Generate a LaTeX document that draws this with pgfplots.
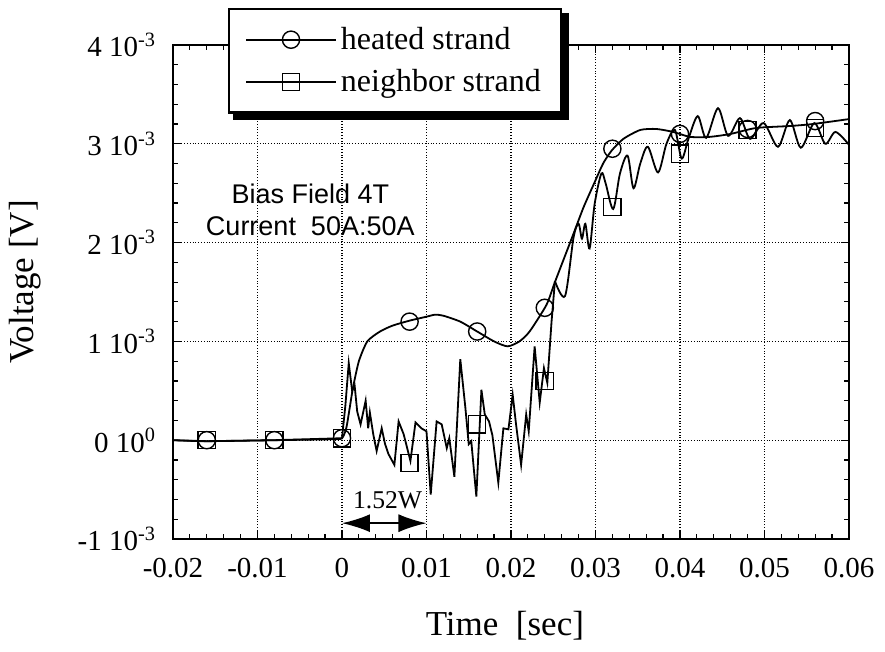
\documentclass[border=0pt]{standalone}
\usepackage{fontspec}
\setmainfont{Liberation Serif}
\newfontfamily\sansf{Liberation Sans}
\usepackage{pgfplots}
\pgfplotsset{compat=1.18}
\usetikzlibrary{arrows.meta}
\begin{document}
\begin{tikzpicture}
\useasboundingbox (-86.5pt,-56.5pt) rectangle (356pt,269.5pt);
\begin{axis}[
  scale only axis, width=338pt, height=247pt,
  at={(0,0)}, anchor=south west,
  xmin=-0.02, xmax=0.06, ymin=-0.001, ymax=0.004,
  scaled x ticks=false, scaled y ticks=false,
  xtick={-0.02,-0.01,0,0.01,0.02,0.03,0.04,0.05,0.06},
  xticklabels={-0.02,-0.01,0,0.01,0.02,0.03,0.04,0.05,0.06},
  ytick={-0.001,0,0.001,0.002,0.003,0.004},
  yticklabels={-1 10\textsuperscript{-3},0 10\textsuperscript{0},1 10\textsuperscript{-3},2 10\textsuperscript{-3},3 10\textsuperscript{-3},4 10\textsuperscript{-3}},
  minor x tick num=4, minor y tick num=4,
  tick align=inside, major tick length=4pt, minor tick length=2.5pt,
  every tick/.style={black, line width=0.6pt},
  grid=major, major grid style={black, densely dotted, line width=0.6pt},
  axis line style={line width=1pt},
  tick label style={font=\fontsize{14.5}{17}\selectfont},
  yticklabel style={xshift=-5pt},
  xticklabel style={yshift=-6pt},
  label style={font=\fontsize{17.5}{20}\selectfont},
  xlabel={Time~~[sec]}, ylabel={Voltage [V]},
  xlabel style={at={(axis description cs:0.491,-0.196)}, anchor=base},
  ylabel style={at={(axis description cs:-0.219,0.52)}, anchor=center},
  legend style={name=leg, at={(0.0814,1.0749)}, anchor=north west, draw=black, line width=1.1pt,
    fill=white, inner xsep=8pt, inner ysep=7pt, row sep=4.5pt,
    font=\fontsize{16}{19}\selectfont},
  legend cell align=left,
  legend image code/.code={\draw[#1,mark=none] (0pt,0pt) -- (45pt,0pt);
    \draw[#1,only marks] plot coordinates {(22.5pt,0pt)};},
]
\addlegendimage{black, line width=0.9pt, mark=o, mark size=4.3pt, mark options={fill=none, line width=0.7pt}}
\addlegendentry{heated strand}
\addlegendimage{black, line width=0.9pt, mark=square, mark size=4.3pt, mark options={fill=none, line width=0.7pt}}
\addlegendentry{neighbor strand}

% heated strand
\addplot[black, line width=0.9pt, smooth, tension=0.4] coordinates {
(-0.02,0) (-0.016,-0.00001) (-0.008,0) (-0.001,0.00001) (0.0,0.00002)
(0.0005,0.00012) (0.0009,0.00032) (0.0013,0.00053) (0.002,0.0008) (0.003,0.001)
(0.0045,0.0011) (0.006,0.00116) (0.008,0.00121) (0.010,0.00125) (0.011,0.00127)
(0.012,0.00126) (0.014,0.0012) (0.016,0.0011) (0.018,0.001) (0.0196,0.00095)
(0.021,0.001) (0.0222,0.0011) (0.0242,0.00137) (0.0252,0.0016) (0.0274,0.00209)
(0.0286,0.00236) (0.030,0.00263) (0.0309,0.0028) (0.0319,0.00293) (0.0333,0.00305)
(0.0353,0.00314) (0.0372,0.00315) (0.0392,0.00312) (0.0412,0.00307) (0.0435,0.00307)
(0.046,0.0031) (0.049,0.00316) (0.053,0.00318) (0.0557,0.0032) (0.06,0.00325)
};
% neighbor strand, noisy part
\addplot[black, line width=0.9pt] coordinates {
(-0.02,0) (-0.016,-0.00001) (-0.008,0) (-0.004,0.00001) (0,0.00002)
(0.0004,0.00035) (0.0008,0.00078) (0.0012,0.0005) (0.0015,0.00055) (0.0018,0.00029)
(0.0022,0.00016) (0.0028,0.0004) (0.0031,0.00012) (0.0033,0.00028) (0.0037,0.00006)
(0.0041,-0.00011) (0.0047,0.00012) (0.0051,-0.00004) (0.0055,-0.00014) (0.0062,-0.00025)
(0.0067,0.00019) (0.0073,0.00006) (0.0081,-0.00021) (0.0087,0.00018) (0.0094,0.00012)
(0.0100,0.00009) (0.0105,-0.00055) (0.0112,0.00019) (0.0118,0.00016) (0.0124,-0.00008)
(0.0127,0.00002) (0.0133,-0.00037) (0.0140,0.00082) (0.0146,0.00033) (0.0150,-0.00004)
(0.0153,-0.00001) (0.0159,-0.00057) (0.0165,0.00051) (0.0169,0.00026) (0.0174,0.00019)
(0.0178,0.00005) (0.0185,-0.00043) (0.0191,0.00012) (0.0197,0.00011) (0.0202,0.00046)
(0.0206,0.00016) (0.0212,-0.00025) (0.0218,0.00026) (0.0221,0.00009) (0.0228,0.00095)
(0.0234,0.00038) (0.0239,0.00073) (0.0243,0.00058) (0.0248,0.0012) (0.0252,0.00161)
};
% neighbor strand, oscillating part
\addplot[black, line width=0.9pt, smooth, tension=0.5] coordinates {
(0.0252,0.00161) (0.0264,0.00146) (0.0274,0.00205) (0.0280,0.00219) (0.0284,0.00204)
(0.0288,0.00219) (0.0293,0.00194) (0.0299,0.00239) (0.0307,0.0027) (0.0312,0.0026)
(0.0321,0.00234) (0.0329,0.0027) (0.0338,0.00288) (0.0345,0.00255) (0.0353,0.0028)
(0.0362,0.00297) (0.0374,0.00271) (0.0384,0.003) (0.0394,0.00314) (0.0402,0.00285)
(0.041,0.00305) (0.0421,0.00328) (0.0431,0.00306) (0.0445,0.00336) (0.0457,0.00308)
(0.0471,0.00326) (0.0483,0.00305) (0.0499,0.00321) (0.0516,0.00297) (0.0530,0.00324)
(0.0543,0.00296) (0.0559,0.00321) (0.0572,0.003) (0.0584,0.00312) (0.06,0.00299)
};
% markers
\addplot[only marks, black, mark=o, mark size=4.3pt, mark options={fill=none, line width=0.7pt}] coordinates {
(-0.016,0) (-0.008,0) (0,0.00002) (0.008,0.0012) (0.016,0.0011) (0.024,0.00134)
(0.032,0.00295) (0.040,0.0031) (0.048,0.00315) (0.056,0.00323)
};
\addplot[only marks, black, mark=square, mark size=4.3pt, mark options={fill=none, line width=0.7pt}] coordinates {
(-0.016,0) (-0.008,0) (0,0.00002) (0.008,-0.00023) (0.016,0.00016) (0.024,0.0006)
(0.032,0.00236) (0.040,0.0029) (0.048,0.00314) (0.056,0.00316)
};

\node[font=\sansf\fontsize{13.5}{16}\selectfont, anchor=base] at (axis cs:-0.00375,0.0024) {Bias Field 4T};
\node[font=\sansf\fontsize{13.5}{16}\selectfont, anchor=base] at (axis cs:-0.00375,0.00207) {Current~~50A:50A};
\node[font=\fontsize{12.8}{15}\selectfont, anchor=base] at (axis cs:0.0054,-0.00069) {1.52W};
\draw[{Latex[length=14pt,width=9pt]}-{Latex[length=14pt,width=9pt]}, line width=0.8pt]
  (axis cs:0,-0.00084) -- (axis cs:0.01,-0.00084);
\end{axis}
\fill[black] ([yshift=-2.5pt]leg.north east) rectangle ([xshift=3.5pt,yshift=-3pt]leg.south east);
\fill[black] ([xshift=2.5pt]leg.south west) rectangle ([xshift=3.5pt,yshift=-3pt]leg.south east);
\end{tikzpicture}
\end{document}
